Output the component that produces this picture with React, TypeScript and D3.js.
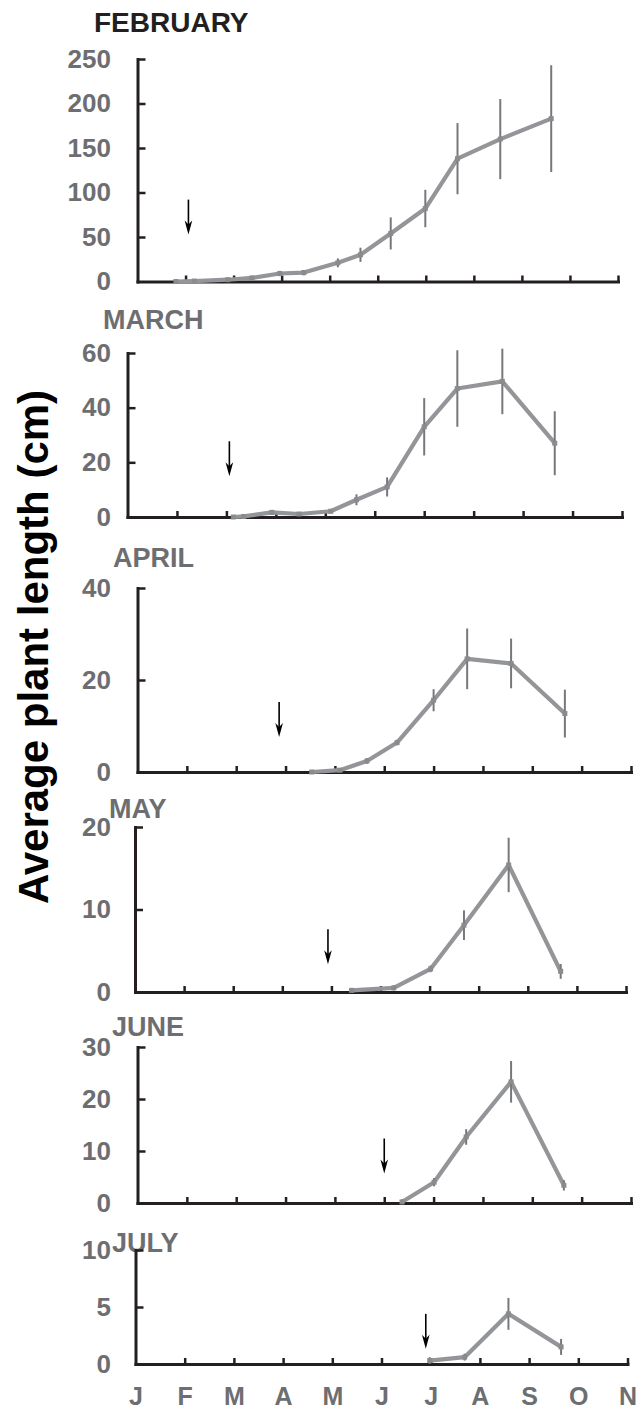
import React, { useEffect, useRef } from 'react';
import * as d3 from 'd3';

// Month axis labels (J = 0 ... N = 10)
const MONTH_LABELS = ['J', 'F', 'M', 'A', 'M', 'J', 'J', 'A', 'S', 'O', 'N'];

// Panels, one per sowing month
const PANEL_TITLES = ['FEBRUARY', 'MARCH', 'APRIL', 'MAY', 'JUNE', 'JULY'];
const Y_MAX = [250, 60, 40, 20, 30, 10];
const Y_STEP = [50, 20, 20, 10, 10, 5];

// Series: month position (0 = Jan), mean length (cm), error half-length
const FEB_MONTHS = [0.8, 1.18, 1.88, 2.38, 2.96, 3.46, 4.17, 4.64, 5.27, 5.99, 6.66, 7.55, 8.61];
const FEB_VALUES = [0, 0.5, 2, 4, 9, 10, 21, 30, 54, 82, 138, 160, 183];
const FEB_ERRORS = [1, 1, 1.5, 2, 3, 3, 5, 8, 18, 21, 40, 45, 60];

const MAR_MONTHS = [2.14, 2.35, 2.92, 3.47, 4.11, 4.63, 5.25, 6.0, 6.67, 7.58, 8.64];
const MAR_VALUES = [0, 0.2, 1.7, 1.1, 2.1, 6.3, 11, 33, 47, 49.6, 27];
const MAR_ERRORS = [0.5, 0.5, 0.8, 0.6, 0.8, 2, 3.5, 10.5, 14, 12, 11.7];

const APR_MONTHS = [3.53, 4.1, 4.65, 5.26, 6.0, 6.68, 7.57, 8.66];
const APR_VALUES = [0, 0.4, 2.4, 6.4, 15.6, 24.6, 23.6, 12.7];
const APR_ERRORS = [0.3, 0.4, 0.6, 0.6, 2.4, 6.6, 5.4, 5.2];

const MAY_MONTHS = [4.41, 5.27, 6.02, 6.7, 7.61, 8.67];
const MAY_VALUES = [0.2, 0.5, 2.8, 8.1, 15.4, 2.5];
const MAY_ERRORS = [0.2, 0.3, 0.4, 1.8, 3.3, 0.9];

const JUN_MONTHS = [5.36, 6.01, 6.66, 7.57, 8.64];
const JUN_VALUES = [0.2, 4.0, 12.7, 23.3, 3.4];
const JUN_ERRORS = [0.5, 0.8, 1.5, 4, 1];

const JUL_MONTHS = [5.98, 6.69, 7.58, 8.65];
const JUL_VALUES = [0.3, 0.6, 4.4, 1.5];
const JUL_ERRORS = [0.3, 0.3, 1.4, 0.7];

// Sowing arrows: month position and value at the arrow's tail
const ARROW_MONTHS = [1.06, 2.06, 2.87, 3.93, 5.0, 5.9];
const ARROW_TOPS = [92, 27.7, 15.2, 7.6, 12.4, 4.4];

const SERIES = [
  { months: FEB_MONTHS, values: FEB_VALUES, errors: FEB_ERRORS },
  { months: MAR_MONTHS, values: MAR_VALUES, errors: MAR_ERRORS },
  { months: APR_MONTHS, values: APR_VALUES, errors: APR_ERRORS },
  { months: MAY_MONTHS, values: MAY_VALUES, errors: MAY_ERRORS },
  { months: JUN_MONTHS, values: JUN_VALUES, errors: JUN_ERRORS },
  { months: JUL_MONTHS, values: JUL_VALUES, errors: JUL_ERRORS },
];

// Panel placement on the page (the panels were pasted slightly offset)
const LAYOUT = [
  { x0: 137.5, x1: 618, yTop: 59, yBot: 281.5, tx: 94, ty: 32, color: '#231f20' },
  { x0: 127.5, x1: 622, yTop: 353, yBot: 517, tx: 103, ty: 329, color: '#6d6e71' },
  { x0: 137.5, x1: 631, yTop: 588, yBot: 772, tx: 113, ty: 567, color: '#6d6e71' },
  { x0: 135, x1: 626, yTop: 827, yBot: 992, tx: 109, ty: 818, color: '#6d6e71' },
  { x0: 137.5, x1: 631, yTop: 1047, yBot: 1203, tx: 112, ty: 1036, color: '#6d6e71' },
  { x0: 135.5, x1: 627.5, yTop: 1250, yBot: 1364, tx: 112, ty: 1252, color: '#6d6e71' },
];

const WIDTH = 638;
const HEIGHT = 1409;
const FONT = '"Liberation Sans", Arial, Helvetica, sans-serif';
const GREY_TEXT = '#6d6e71';
const LINE_COLOR = '#939598';
const ERR_COLOR = '#77787b';
const AXIS_COLOR = '#231f20';
const LABEL_RIGHT = 111;

const drawChart = (svgEl: SVGSVGElement) => {
  const svg = d3.select(svgEl);
  svg.selectAll('*').remove();

  PANEL_TITLES.forEach((title, i) => {
    const L = LAYOUT[i];
    const s = SERIES[i];
    const last = i === PANEL_TITLES.length - 1;

    const x = d3.scaleLinear().domain([0, 10]).range([L.x0, L.x1]);
    const y = d3.scaleLinear().domain([0, Y_MAX[i]]).range([L.yBot, L.yTop]);

    const g = svg.append('g');

    // title
    g.append('text')
      .attr('x', L.tx)
      .attr('y', L.ty)
      .attr('font-family', FONT)
      .attr('font-weight', 'bold')
      .attr('font-size', i === 0 ? 28 : 27)
      .attr('fill', L.color)
      .text(title);

    // x axis
    const xAxis = d3.axisBottom(x)
      .tickValues(last ? d3.range(0, 11) : d3.range(1, 11))
      .tickSizeInner(-6)
      .tickSizeOuter(0)
      .tickPadding(23)
      .tickFormat((d) => (last ? MONTH_LABELS[d as number] : ''));
    const gx = g.append('g').attr('transform', `translate(0,${L.yBot})`).call(xAxis);

    // y axis
    const yAxis = d3.axisLeft(y)
      .tickValues(d3.range(0, Y_MAX[i] + Y_STEP[i] / 2, Y_STEP[i]))
      .tickSizeInner(-8)
      .tickSizeOuter(0)
      .tickPadding(L.x0 - LABEL_RIGHT)
      .tickFormat(d3.format('d'));
    const gy = g.append('g').attr('transform', `translate(${L.x0},0)`).call(yAxis);

    [gx, gy].forEach((ax) => {
      ax.select('.domain').attr('stroke', AXIS_COLOR).attr('stroke-width', 3).attr('stroke-linecap', 'square');
      ax.selectAll('.tick line').attr('stroke', AXIS_COLOR).attr('stroke-width', 2.5);
      ax.selectAll('.tick text')
        .attr('font-family', FONT)
        .attr('font-weight', 'bold')
        .attr('font-size', 26)
        .attr('fill', GREY_TEXT);
    });
    gx.selectAll('.tick text').attr('font-size', 25).attr('dy', '0.72em');
    gx.selectAll('.tick').filter((d) => d === 0).select('line').remove();
    gy.selectAll('.tick').filter((d) => d === 0).select('line').remove();

    // sowing arrow
    const ax = x(ARROW_MONTHS[i]);
    const ay = y(ARROW_TOPS[i]);
    g.append('line')
      .attr('x1', ax).attr('x2', ax)
      .attr('y1', ay).attr('y2', ay + 30)
      .attr('stroke', '#000').attr('stroke-width', 1.6);
    g.append('path')
      .attr('d', `M${ax - 3.8},${ay + 21} L${ax},${ay + 35} L${ax + 3.8},${ay + 21} L${ax},${ay + 25} Z`)
      .attr('fill', '#000');

    const pts = s.months.map((m, k) => ({ m, v: s.values[k], e: s.errors[k] }));

    // series line
    const line = d3.line<{ m: number; v: number }>()
      .x((d) => x(d.m))
      .y((d) => y(d.v));
    g.append('path')
      .datum(pts)
      .attr('d', line)
      .attr('fill', 'none')
      .attr('stroke', LINE_COLOR)
      .attr('stroke-width', 4.2)
      .attr('stroke-linejoin', 'round');

    // error bars
    g.selectAll('.err')
      .data(pts)
      .enter().append('line')
      .attr('x1', (d) => x(d.m)).attr('x2', (d) => x(d.m))
      .attr('y1', (d) => y(Math.max(0, d.v - d.e)))
      .attr('y2', (d) => y(d.v + d.e))
      .attr('stroke', ERR_COLOR)
      .attr('stroke-width', 2);

    // markers
    g.selectAll('.mk')
      .data(pts)
      .enter().append('rect')
      .attr('x', (d) => x(d.m) - 2.5)
      .attr('y', (d) => y(d.v) - 2.5)
      .attr('width', 5)
      .attr('height', 5)
      .attr('fill', '#8a8b8d');
  });

  // shared y title
  svg.append('text')
    .attr('transform', 'translate(33,647) rotate(-90)')
    .attr('text-anchor', 'middle')
    .attr('dominant-baseline', 'central')
    .attr('font-family', FONT)
    .attr('font-weight', 'bold')
    .attr('font-size', 42)
    .attr('fill', '#000')
    .text('Average plant length (cm)');
};

export default function App() {
  const ref = useRef<SVGSVGElement>(null);

  useEffect(() => {
    if (ref.current) drawChart(ref.current);
  }, []);

  return (
    <svg
      ref={ref}
      width={WIDTH}
      height={HEIGHT}
      style={{ position: 'absolute', left: 0, top: 0, background: '#fff' }}
    />
  );
}
